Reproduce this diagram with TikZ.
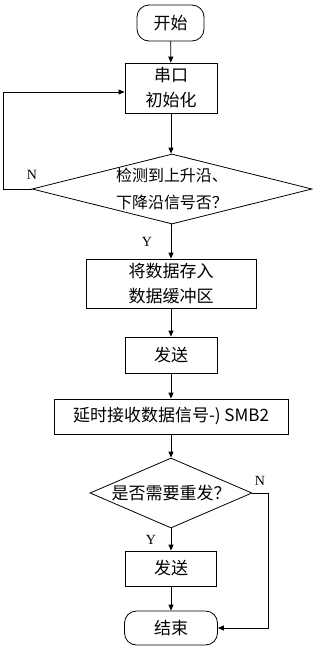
\documentclass[tikz,border=0pt]{standalone}
\usepackage{fontspec}
\setmainfont{Liberation Serif}
\newfontfamily\cjk{Noto Sans CJK SC}
\usetikzlibrary{arrows.meta,shapes.geometric}
\begin{document}
\begin{tikzpicture}[
    x=1pt,
    y=-1pt,
    >={Triangle[length=6pt,width=5pt]},
    line join=miter,
    every node/.style={font=\cjk\fontsize{17}{25}\selectfont, inner sep=0pt},
    caja/.style={draw, line width=0.8pt, align=center},
    terminal/.style={draw, line width=0.8pt, rounded corners=12pt},
    rombo/.style={draw, diamond, line width=0.8pt, align=center},
    flecha/.style={->, line width=0.8pt},
    etiqueta/.style={font=\fontsize{14}{16}\selectfont}
]

\useasboundingbox (0,0) rectangle (319,649);

\node[terminal, minimum width=67pt, minimum height=36pt] (inicio) at (170.5,23) {开始};
\node[caja, minimum width=92pt, minimum height=50pt] (serie) at (171,88) {串口\\初始化};
\node[rombo, minimum width=280pt, minimum height=70pt, aspect=4,
      font=\cjk\fontsize{16}{27}\selectfont] (flanco) at (172,189) {检测到上升沿、\\下降沿信号否？};
\node[caja, minimum width=170pt, minimum height=49pt] (guardar) at (171,283.5) {将数据存入\\数据缓冲区};
\node[caja, minimum width=92pt, minimum height=36pt] (envio) at (171,355) {发送};
\node[caja, minimum width=234pt, minimum height=35pt] (recibir) at (171,416.5) {延时接收数据信号-) SMB2};
\node[rombo, minimum width=162pt, minimum height=70pt, aspect=2.3] (reenvio) at (171,493) {是否需要重发？};
\node[caja, minimum width=91pt, minimum height=35pt] (envio2) at (171,568.5) {发送};
\node[terminal, minimum width=93pt, minimum height=34pt] (fin) at (171,628) {结束};

\draw[flecha] (inicio) -- (serie);
\draw[flecha] (serie) -- (flanco.north -| serie.south);
\draw[flecha] (flanco.south -| guardar.north) -- (guardar);
\draw[flecha] (guardar) -- (envio);
\draw[flecha] (envio) -- (recibir);
\draw[flecha] (recibir) -- (reenvio.north -| recibir.south);
\draw[flecha] (reenvio) -- (envio2);
\draw[flecha] (envio2) -- (fin.north -| envio2.south);

\draw[flecha] (flanco.west) -- ++(-28,0) |- ([yshift=-4pt]serie.west);
\draw[flecha] (reenvio.east) -- ++(16,0) |- (fin.east);

\node[etiqueta] (n1) at (32,175) {N};
\node[etiqueta] (y1) at (147,242) {Y};
\node[etiqueta] (n2) at (260,481) {N};
\node[etiqueta] (y2) at (151,540) {Y};

\end{tikzpicture}
\end{document}
